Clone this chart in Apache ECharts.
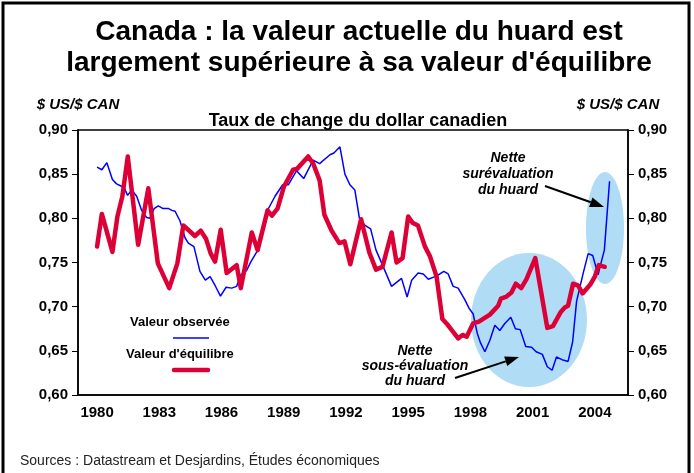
<!DOCTYPE html>
<html>
<head>
<meta charset="utf-8">
<script src="https://cdn.jsdelivr.net/npm/echarts@6.0.0/dist/echarts.min.js"></script>
<style>
  html, body { margin: 0; padding: 0; background: #fff; }
  #chart { width: 694px; height: 473px; }
</style>
</head>
<body>
<div id="chart"></div>
<script>
const obsYears = [1980.0, 1980.23, 1980.47, 1980.74, 1980.94, 1981.2, 1981.3, 1981.47, 1981.67, 1981.91,
  1982.15, 1982.39, 1982.55, 1982.75, 1982.95, 1983.18, 1983.45, 1983.61, 1983.76, 1984.0,
  1984.24, 1984.4, 1984.67, 1984.96, 1985.22, 1985.45, 1985.69, 1985.95, 1986.22, 1986.49,
  1986.73, 1986.93, 1987.21, 1987.42, 1987.7, 1988.24, 1988.58, 1988.95, 1989.22, 1989.62,
  1989.96, 1990.42, 1990.73, 1991.23, 1991.42, 1991.71, 1991.95, 1992.19, 1992.43, 1992.65,
  1992.92, 1993.19, 1993.45, 1993.8, 1994.2, 1994.68, 1994.95, 1995.17, 1995.48, 1995.73,
  1995.97, 1996.29, 1996.53, 1996.72, 1996.93, 1997.17, 1997.41, 1997.73, 1997.94, 1998.13,
  1998.33, 1998.49, 1998.7, 1998.94, 1999.18, 1999.42, 1999.66, 1999.95, 2000.17, 2000.4,
  2000.67, 2000.95, 2001.17, 2001.47, 2001.71, 2001.94, 2002.15, 2002.42, 2002.71, 2002.93,
  2003.12, 2003.44, 2003.68, 2003.9, 2004.16, 2004.25, 2004.46, 2004.71]
const obsValues = [0.858, 0.855, 0.863, 0.844, 0.839, 0.836, 0.835, 0.826, 0.832, 0.825,
  0.809, 0.801, 0.800, 0.811, 0.814, 0.811, 0.811, 0.809, 0.808, 0.797,
  0.778, 0.772, 0.768, 0.740, 0.730, 0.734, 0.724, 0.712, 0.722, 0.721,
  0.723, 0.736, 0.741, 0.751, 0.762, 0.810, 0.825, 0.838, 0.838, 0.854,
  0.845, 0.866, 0.862, 0.872, 0.874, 0.881, 0.850, 0.838, 0.832, 0.800,
  0.792, 0.788, 0.764, 0.745, 0.723, 0.732, 0.711, 0.730, 0.738, 0.737,
  0.731, 0.734, 0.737, 0.740, 0.737, 0.723, 0.721, 0.708, 0.698, 0.692,
  0.670, 0.659, 0.649, 0.662, 0.679, 0.673, 0.681, 0.688, 0.675, 0.674,
  0.655, 0.654, 0.649, 0.646, 0.632, 0.628, 0.643, 0.640, 0.638, 0.660,
  0.706, 0.738, 0.760, 0.758, 0.736, 0.745, 0.764, 0.842]

// valeur d'équilibre
const eqYears = [1980.0, 1980.23, 1980.74, 1980.98, 1981.22, 1981.48, 1981.98, 1982.47, 1982.93, 1983.48,
  1983.87, 1984.16, 1984.72, 1985.0, 1985.25, 1985.48, 1985.69, 1985.96, 1986.25, 1986.73,
  1986.93, 1987.46, 1987.74, 1988.22, 1988.43, 1988.7, 1989.01, 1989.45, 1989.64, 1990.18,
  1990.42, 1990.73, 1990.96, 1991.31, 1991.68, 1991.93, 1992.21, 1992.73, 1993.13, 1993.45,
  1993.76, 1994.2, 1994.44, 1994.73, 1995.0, 1995.21, 1995.47, 1995.81, 1996.05, 1996.37,
  1996.65, 1996.85, 1997.41, 1997.62, 1997.82, 1998.13, 1998.41, 1998.94, 1999.34, 1999.47,
  1999.71, 1999.98, 2000.19, 2000.45, 2000.7, 2001.13, 2001.71, 2001.98, 2002.36, 2002.55,
  2002.71, 2002.95, 2003.19, 2003.41, 2003.78, 2004.0, 2004.19, 2004.48]
const eqValues = [0.768, 0.805, 0.762, 0.802, 0.825, 0.870, 0.770, 0.834, 0.749, 0.721,
  0.749, 0.792, 0.780, 0.786, 0.777, 0.760, 0.751, 0.787, 0.738, 0.747,
  0.721, 0.784, 0.764, 0.809, 0.803, 0.811, 0.836, 0.855, 0.856, 0.870,
  0.862, 0.843, 0.804, 0.786, 0.772, 0.774, 0.748, 0.799, 0.761, 0.742,
  0.745, 0.784, 0.750, 0.755, 0.802, 0.795, 0.792, 0.768, 0.757, 0.734,
  0.686, 0.681, 0.664, 0.668, 0.666, 0.681, 0.683, 0.691, 0.701, 0.709,
  0.711, 0.716, 0.726, 0.721, 0.731, 0.755, 0.676, 0.678, 0.694, 0.699,
  0.701, 0.726, 0.724, 0.715, 0.725, 0.734, 0.747, 0.745]

const yearLabels = [1980, 1983, 1986, 1989, 1992, 1995, 1998, 2001, 2004]

const FONT = 'Liberation Sans, Arial, sans-serif'
const chart = echarts.init(document.getElementById('chart'))

function pairs(xs, ys) {
  return xs.map((x, i) => [x, ys[i]])
}

function comma(v) {
  return v.toFixed(2).replace('.', ',')
}

function arrow(x1, y1, x2, y2) {
  const a = Math.atan2(y2 - y1, x2 - x1)
  const len = 14, half = 5
  const bx = x2 - len * Math.cos(a), by = y2 - len * Math.sin(a)
  return [
    { type: 'line', z: 10, shape: { x1: x1, y1: y1, x2: bx, y2: by }, style: { stroke: '#000', lineWidth: 2 } },
    { type: 'polygon', z: 10,
      shape: { points: [[x2, y2], [bx + half * Math.sin(a), by - half * Math.cos(a)], [bx - half * Math.sin(a), by + half * Math.cos(a)]] },
      style: { fill: '#000' } }
  ]
}

function label(text, x, y, size, italic, lh) {
  return {
    type: 'text', z: 10,
    style: {
      text: text, x: x, y: y, fill: '#000',
      font: (italic ? 'italic ' : '') + 'bold ' + size + 'px ' + FONT,
      align: 'center', verticalAlign: 'middle', lineHeight: lh || size
    }
  }
}

const yAxisBase = {
  type: 'value',
  min: 0.6,
  max: 0.9,
  interval: 0.05,
  name: '$ US/$ CAN',
  nameLocation: 'end',
  nameGap: 18,
  axisLine: { show: true, lineStyle: { color: '#000', width: 1.5 } },
  axisTick: { show: true, inside: false, length: 6, lineStyle: { color: '#000' } },
  axisLabel: { fontFamily: FONT, fontSize: 15, fontWeight: 'bold', color: '#000', margin: 10, formatter: comma },
  splitLine: { show: false }
}
const nameStyle = { fontFamily: FONT, fontSize: 15, fontWeight: 'bold', fontStyle: 'italic', color: '#000' }

const option = {
  animation: false,
  backgroundColor: '#fff',
  title: [
    {
      text: 'Canada : la valeur actuelle du huard est\nlargement supérieure à sa valeur d\'équilibre',
      left: 354, textAlign: 'center', top: 12,
      textStyle: { fontFamily: FONT, fontSize: 28, fontWeight: 'bold', lineHeight: 31, color: '#000' }
    },
    {
      text: 'Taux de change du dollar canadien',
      left: 353, textAlign: 'center', top: 107,
      textStyle: { fontFamily: FONT, fontSize: 18, fontWeight: 'bold', color: '#000' }
    }
  ],
  grid: { left: 78, right: 66, top: 130, bottom: 78, show: true, borderColor: '#000', borderWidth: 1.5 },
  xAxis: {
    type: 'value',
    min: 1979.08,
    max: 2005.6,
    axisLine: { show: true, lineStyle: { color: '#000', width: 1.5 } },
    axisTick: { show: false },
    splitLine: { show: false },
    axisLabel: {
      customValues: yearLabels,
      fontFamily: FONT, fontSize: 15, fontWeight: 'bold', color: '#000', margin: 10,
      formatter: v => String(Math.round(v))
    }
  },
  yAxis: [
    Object.assign({}, yAxisBase, { position: 'left', nameTextStyle: nameStyle }),
    Object.assign({}, yAxisBase, { position: 'right', nameTextStyle: Object.assign({ padding: [0, 20, 0, 0] }, nameStyle) })
  ],
  series: [
    {
      name: 'Valeur observée', type: 'line', data: pairs(obsYears, obsValues),
      showSymbol: false, z: 3,
      lineStyle: { color: '#0000ff', width: 1.5 }
    },
    {
      name: 'Valeur d\'équilibre', type: 'line', data: pairs(eqYears, eqValues),
      showSymbol: false, z: 4,
      lineStyle: { color: '#dc0036', width: 4.5, join: 'round', cap: 'round' }
    }
  ],
  graphic: [
    // cadre
    { type: 'rect', z: 20, shape: { x: 3, y: 3, width: 686, height: 490 }, style: { fill: 'none', stroke: '#000', lineWidth: 3 } },
    // zones de sous/surévaluation
    { type: 'ellipse', z: 1, shape: { cx: 529, cy: 320, rx: 58, ry: 67 }, style: { fill: '#b0dcf5' } },
    { type: 'ellipse', z: 1, shape: { cx: 605, cy: 228, rx: 19, ry: 56 }, style: { fill: '#b0dcf5' } },
    label('Nette\nsurévaluation\ndu huard', 508, 174, 14, true, 16),
    label('Nette\nsous-évaluation\ndu huard', 415, 366, 14, true, 15),
    ...arrow(545, 186, 604, 207),
    ...arrow(455, 378, 519, 357),
    // légende
    { type: 'text', z: 10, style: { text: 'Valeur observée', x: 130, y: 322, font: 'bold 13px ' + FONT, fill: '#000', verticalAlign: 'middle' } },
    { type: 'line', z: 10, shape: { x1: 173, y1: 338, x2: 209, y2: 338 }, style: { stroke: '#0000ff', lineWidth: 1.5 } },
    { type: 'text', z: 10, style: { text: 'Valeur d\'équilibre', x: 126, y: 354, font: 'bold 13px ' + FONT, fill: '#000', verticalAlign: 'middle' } },
    { type: 'line', z: 10, shape: { x1: 174, y1: 370, x2: 208, y2: 370 }, style: { stroke: '#dc0036', lineWidth: 4.5, lineCap: 'round' } },
    // source
    { type: 'text', z: 10, style: { text: 'Sources : Datastream et Desjardins, Études économiques', x: 20, y: 461, font: '14px ' + FONT, fill: '#222', verticalAlign: 'middle' } }
  ]
}

chart.setOption(option)
</script>
</body>
</html>
